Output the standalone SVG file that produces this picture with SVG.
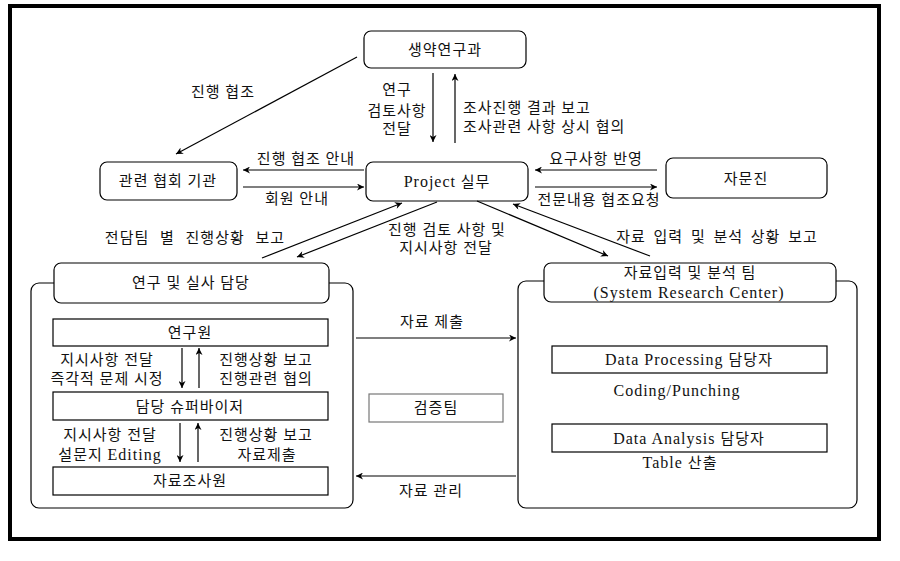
<svg xmlns="http://www.w3.org/2000/svg" width="900" height="561" viewBox="0 0 900 561">
<defs>
<marker id="ah" viewBox="0 0 10 10" refX="10" refY="5" markerWidth="9" markerHeight="7" markerUnits="userSpaceOnUse" orient="auto">
<path d="M0,0 L10,5 L0,10 L3,5 Z" fill="#000"/>
</marker>
<style>
text{font-family:"Liberation Serif","Noto Sans CJK KR",serif;font-size:15px;fill:#111;letter-spacing:1px}
.m{text-anchor:middle}
.lat{font-size:16px}
.rbox{fill:#fff;stroke:#000;stroke-width:1.2}
.box{fill:#fff;stroke:#000;stroke-width:1.2}
.gbox{fill:#fff;stroke:#777;stroke-width:1.2}
.cn{fill:none;stroke:#000;stroke-width:1.2}
.cnl line{stroke:#000;stroke-width:1.2;marker-end:url(#ah)}
</style>
</defs>
<rect width="900" height="561" fill="#fff"/>
<rect x="10" y="6" width="869" height="533" fill="none" stroke="#000" stroke-width="4"/>

<g id="container-left"><rect class="cn" x="31" y="283" width="322" height="225" rx="8"/></g>
<g id="container-right"><rect class="cn" x="518" y="281" width="339" height="227" rx="8"/></g>

<g id="n-saengyak"><rect class="rbox" x="364" y="31" width="162" height="37" rx="7"/><text class="m" x="445" y="55">생약연구과</text></g>
<g id="n-hyeophoe"><rect class="rbox" x="100" y="162" width="137" height="38" rx="7"/><text class="m" x="168" y="186">관련 협회 기관</text></g>
<g id="n-project"><rect class="rbox" x="366" y="162" width="162" height="39" rx="7"/><text class="m" x="447" y="187"><tspan class="lat">Project</tspan> 실무</text></g>
<g id="n-jamun"><rect class="rbox" x="666" y="158" width="161" height="40" rx="7"/><text class="m" x="746" y="184">자문진</text></g>
<g id="n-yeongu-silsa"><rect class="rbox" x="54" y="263" width="275" height="40" rx="7"/><text class="m" x="191" y="288">연구 및 실사 담당</text></g>
<g id="n-jaryo-team"><rect class="rbox" x="544" y="263" width="292" height="39" rx="7"/><text class="m" x="690" y="278">자료입력 및 분석 팀</text><text class="m lat" x="689" y="298">(System Research Center)</text></g>
<g id="n-yeonguwon"><rect class="box" x="53" y="319" width="275" height="27"/><text class="m" x="190" y="338">연구원</text></g>
<g id="n-supervisor"><rect class="box" x="53" y="392" width="275" height="28"/><text class="m" x="190" y="412">담당 슈퍼바이저</text></g>
<g id="n-josawon"><rect class="box" x="53" y="467" width="275" height="28"/><text class="m" x="190" y="486">자료조사원</text></g>
<g id="n-geomjeung"><rect class="gbox" x="369" y="394" width="134" height="28"/><text class="m" x="436" y="413">검증팀</text></g>
<g id="n-dataproc"><rect class="box" x="552" y="346" width="275" height="27"/><text class="m lat" x="689" y="365">Data Processing <tspan style="font-size:15px">담당자</tspan></text></g>
<g id="n-dataanal"><rect class="box" x="552" y="424" width="275" height="28"/><text class="m lat" x="689" y="444">Data Analysis <tspan style="font-size:15px">담당자</tspan></text></g>

<g id="connectors" class="cnl">
<line x1="357" y1="57" x2="176" y2="154"/>
<line x1="433" y1="73" x2="433" y2="142"/>
<line x1="455" y1="143" x2="455" y2="74"/>
<line x1="364" y1="170" x2="243" y2="170"/>
<line x1="243" y1="187" x2="364" y2="187"/>
<line x1="657" y1="170" x2="535" y2="170"/>
<line x1="535" y1="187" x2="657" y2="187"/>
<line x1="262" y1="258" x2="402" y2="203"/>
<line x1="437" y1="202" x2="297" y2="257"/>
<line x1="477" y1="201" x2="608" y2="256"/>
<line x1="650" y1="256" x2="513" y2="204"/>
<line x1="182" y1="348" x2="182" y2="388"/>
<line x1="199" y1="388" x2="199" y2="348"/>
<line x1="180" y1="423" x2="180" y2="462"/>
<line x1="198" y1="462" x2="198" y2="423"/>
<line x1="356" y1="338" x2="516" y2="338"/>
<line x1="516" y1="476" x2="356" y2="476"/>
</g>

<g id="labels">
<text class="m" x="223" y="97">진행 협조</text>
<text class="m" x="397" y="95">연구</text>
<text class="m" x="397" y="116">검토사항</text>
<text class="m" x="397" y="134">전달</text>
<text x="463" y="113">조사진행 결과 보고</text>
<text x="463" y="132">조사관련 사항 상시 협의</text>
<text class="m" x="306" y="164">진행 협조 안내</text>
<text class="m" x="297" y="204">회원 안내</text>
<text class="m" x="596" y="164">요구사항 반영</text>
<text class="m" x="599" y="205">전문내용 협조요청</text>
<text class="m" x="195" y="243" style="word-spacing:6px">전담팀 별 진행상황 보고</text>
<text class="m" x="447" y="235">진행 검토 사항 및</text>
<text class="m" x="446" y="253">지시사항 전달</text>
<text class="m" x="717" y="242" style="word-spacing:3px">자료 입력 및 분석 상황 보고</text>
<text class="m" x="107" y="365">지시사항 전달</text>
<text class="m" x="107" y="384">즉각적 문제 시정</text>
<text class="m" x="266" y="365">진행상황 보고</text>
<text class="m" x="266" y="384">진행관련 협의</text>
<text class="m" x="110" y="440">지시사항 전달</text>
<text class="m" x="110" y="460">설문지 <tspan class="lat">Editing</tspan></text>
<text class="m" x="266" y="440">진행상황 보고</text>
<text class="m" x="267" y="460">자료제출</text>
<text class="m" x="432" y="327">자료 제출</text>
<text class="m" x="431" y="496">자료 관리</text>
<text class="m lat" x="677" y="396">Coding/Punching</text>
<text class="m lat" x="680" y="468">Table <tspan style="font-size:15px">산출</tspan></text>
</g>
</svg>
